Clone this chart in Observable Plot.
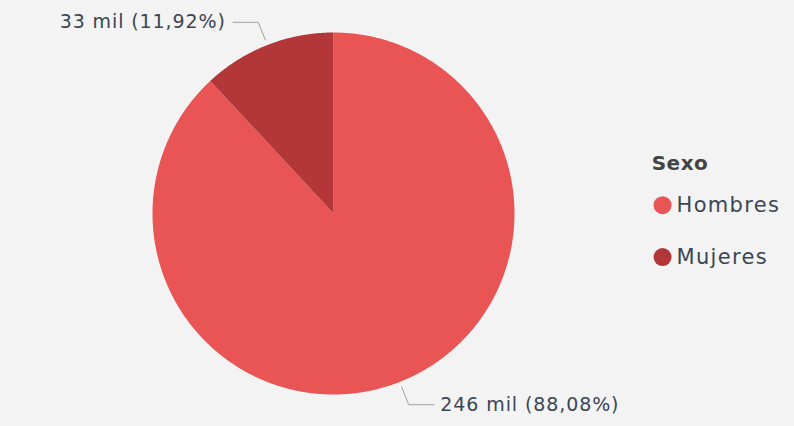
<!DOCTYPE html>
<html><head><meta charset="utf-8">
<script src="https://cdn.jsdelivr.net/npm/d3@7"></script>
<script src="https://cdn.jsdelivr.net/npm/@observablehq/plot@0.6"></script>
<style>
html,body{margin:0;padding:0;background:#f3f3f3;overflow:hidden;}
.lbl text{letter-spacing:0.9px;}
.lgtitle text{letter-spacing:0.5px;}
.lgitem text{letter-spacing:1.3px;}
</style>
</head><body><div id="chart"></div>
<script>
const categories = ["Hombres", "Mujeres"];
const values = [246, 33];          // miles
const percents = [88.08, 11.92];
const labels = ["246 mil (88,08%)", "33 mil (11,92%)"];
const colors = ["#e95455", "#b33638"];
const legendTitle = "Sexo";

const pie = d3.pie().sort(null).value(d => d)(percents);
const pt = (a, r) => [r * Math.sin(a), r * Math.cos(a)];

// slice polygons
const slicePts = [];
pie.forEach((p, i) => {
  slicePts.push({cat: categories[i], x: 0, y: 0});
  const n = Math.max(4, Math.ceil((p.endAngle - p.startAngle) / 0.005));
  for (let k = 0; k <= n; k++) {
    const a = p.startAngle + (p.endAngle - p.startAngle) * k / n;
    const [x, y] = pt(a, 1);
    slicePts.push({cat: categories[i], x, y});
  }
  slicePts.push({cat: categories[i], x: 0, y: 0});
});

// leader lines and labels
const leaderPts = [];
const labelData = [];
pie.forEach((p, i) => {
  const mid = (p.startAngle + p.endAngle) / 2;
  const side = Math.sin(mid) >= 0 ? 1 : -1;
  const [x0, y0] = pt(mid, 1.03);
  const [x1, y1] = pt(mid, 1.135);
  const x2 = x1 + side * 0.14;
  leaderPts.push({cat: categories[i], x: x0, y: y0}, {cat: categories[i], x: x1, y: y1}, {cat: categories[i], x: x2, y: y1});
  labelData.push({text: labels[i], x: x2 + side * (side > 0 ? 0.035 : 0.04), y: y1, side});
});

const legend = categories.map((c, i) => ({cat: c, i}));
const legendX = 1.818, legendTop = 0.276, legendStep = 0.287;

const font = "DejaVu Sans";
const plot = Plot.plot({
  width: 794, height: 426,
  margin: 0,
  style: {background: "#f3f3f3", fontFamily: font},
  x: {domain: [-1, 1], range: [333 - 181, 333 + 181], axis: null},
  y: {domain: [-1, 1], range: [213 + 181, 213 - 181], axis: null},
  color: {domain: categories, range: colors},
  marks: [
    ...categories.map((c, i) => Plot.line(slicePts.filter(d => d.cat === c), {x: "x", y: "y", fill: colors[i], stroke: "none"})),
    Plot.line(leaderPts, {x: "x", y: "y", z: "cat", stroke: "#a0a0a0", strokeWidth: 1}),
    Plot.text(labelData.filter(d => d.side > 0), {x: "x", y: "y", text: "text", textAnchor: "start", fontSize: 19, fill: "#3b4654", fontFamily: font, className: "lbl"}),
    Plot.text(labelData.filter(d => d.side < 0), {x: "x", y: "y", text: "text", textAnchor: "end", fontSize: 19, fill: "#3b4654", fontFamily: font, className: "lbl"}),
    Plot.text([legendTitle], {x: () => legendX - 0.06, y: () => legendTop, text: d => d, textAnchor: "start", fontSize: 20, fontWeight: "bold", fill: "#444", fontFamily: font, className: "lgtitle"}),
    Plot.dot(legend, {x: () => legendX, y: d => legendTop - 0.23 - d.i * legendStep, r: 9, fill: "cat"}),
    Plot.text(legend, {x: () => legendX, y: d => legendTop - 0.23 - d.i * legendStep, text: "cat", dx: 14, textAnchor: "start", fontSize: 21, fill: "#3b4654", fontFamily: font, className: "lgitem"}),
  ]
});
document.getElementById("chart").appendChild(plot);
</script>
</body></html>
